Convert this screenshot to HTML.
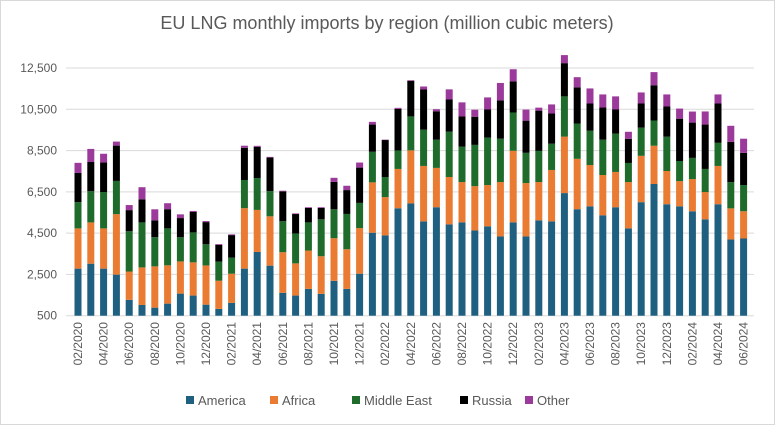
<!DOCTYPE html>
<html><head><meta charset="utf-8"><style>
body{margin:0;background:#fff;font-family:"Liberation Sans",sans-serif;}
svg text{font-family:"Liberation Sans",sans-serif;fill:#595959;}
</style></head><body>
<svg id="chart" width="775" height="425">
<rect x="0.5" y="0.5" width="774" height="424" fill="#fff" stroke="#d9d9d9"/>
<text x="387" y="29" font-size="18" text-anchor="middle">EU LNG monthly imports by region (million cubic meters)</text>
<g id="grid"></g><g id="bars"></g><g id="xlabels"></g><g id="legend"></g>
</svg>
<script>
const months=["02/2020","03/2020","04/2020","05/2020","06/2020","07/2020","08/2020","09/2020","10/2020","11/2020","12/2020","01/2021","02/2021","03/2021","04/2021","05/2021","06/2021","07/2021","08/2021","09/2021","10/2021","11/2021","12/2021","01/2022","02/2022","03/2022","04/2022","05/2022","06/2022","07/2022","08/2022","09/2022","10/2022","11/2022","12/2022","01/2023","02/2023","03/2023","04/2023","05/2023","06/2023","07/2023","08/2023","09/2023","10/2023","11/2023","12/2023","01/2024","02/2024","03/2024","04/2024","05/2024","06/2024"];
const america=[2780,3020,2780,2490,1270,1020,890,1085,1570,1475,1035,830,1120,2780,3590,2925,1610,1475,1800,1560,2190,1800,2535,4520,4390,5705,5940,5070,5755,4925,5025,4630,4830,4340,5025,4340,5120,5070,6440,5660,5800,5365,5755,4730,6000,6880,5900,5800,5560,5170,5900,4190,4240];
const africa=[1950,2000,1950,2930,1370,1820,2000,1855,1560,1610,1900,1365,1415,2930,2035,2390,1965,1560,1855,1820,2065,1920,2210,2440,1855,1905,2570,2685,1905,2295,1950,2145,2000,2635,3465,2585,1855,2490,2735,2440,2000,1950,1710,2245,2245,1855,1610,1220,1560,1320,1855,1510,1320];
const middleEast=[1270,1510,1760,1610,1950,2180,1415,1790,1170,1450,1025,925,780,1365,1545,1220,1500,1450,1365,1790,1400,1710,1220,1480,975,895,1645,1755,1365,2195,1710,2000,2295,2100,1855,1465,1510,1270,1950,1710,1660,1710,1855,925,1365,1220,1660,975,1025,1120,1120,1270,1270];
const russia=[1415,1415,1430,1710,1025,1120,815,930,930,990,1075,815,1090,1560,1510,1625,1450,940,700,550,1330,1155,1710,1320,1790,2015,1725,1950,1380,1560,1465,1365,1365,1855,1510,1560,1950,1465,1610,1755,1320,1560,1170,1170,1170,1710,1465,2050,1710,2150,1905,1950,1560];
const other=[490,635,425,195,245,585,535,290,180,50,50,35,35,100,50,35,30,30,35,35,195,210,245,130,20,50,30,145,100,490,685,340,585,845,585,535,145,440,390,490,730,635,635,340,535,635,585,490,535,635,440,780,685];
const yTicks=[500,2500,4500,6500,8500,10500,12500];
const seriesNames=["America","Africa","Middle East","Russia","Other"];
const colors=["#1f5f7f","#e97b32","#1e6b2c","#000000","#9b3a9b"];
const series=[america,africa,middleEast,russia,other];
const ns="http://www.w3.org/2000/svg";
const x0=78,step=12.8,bw=7,yMin=500,yMax=12500,yBase=315.7,yTop=68;
const yS=v=>yBase-(v-yMin)/(yMax-yMin)*(yBase-yTop);
const xS=i=>x0+i*step;
function mk(t,a){const e=document.createElementNS(ns,t);for(const k in a)e.setAttribute(k,a[k]);return e;}
const grid=document.getElementById('grid');
yTicks.forEach(v=>{const l=mk('line',{x1:66,x2:754,y1:yS(v),y2:yS(v),stroke:'#d9d9d9','stroke-width':1});


grid.appendChild(l);
const t=mk('text',{x:57,y:yS(v)+4,'font-size':12,'text-anchor':'end'});t.textContent=v.toLocaleString('en-US');


grid.appendChild(t);});
const bars=document.getElementById('bars');
months.forEach((m,i)=>{let cum=0;series.forEach((s,k)=>{const lo=Math.max(cum,yMin);cum+=s[i];const hi=cum;if(hi<=yMin)return;
const r=mk('rect',{x:xS(i)-bw/2,y:yS(hi),width:bw,height:yS(lo)-yS(hi),fill:colors[k]});


bars.appendChild(r);});});
const xl=document.getElementById('xlabels');
months.forEach((m,i)=>{if(i%2)return;const t=mk('text',{x:0,y:0,'font-size':12,'text-anchor':'end',transform:`translate(${xS(i)+4},322) rotate(-90)`});t.textContent=m;


xl.appendChild(t);});
const lg=document.getElementById('legend');const lx=[186,270,352,460,525];
seriesNames.forEach((n,k)=>{const g=mk('g',{});


g.appendChild(mk('rect',{x:lx[k],y:396,width:8,height:8,fill:colors[k]}));
const t=mk('text',{x:lx[k]+12,y:405,'font-size':13});t.textContent=n;g.appendChild(t);lg.appendChild(g);});
</script>
</body></html>
